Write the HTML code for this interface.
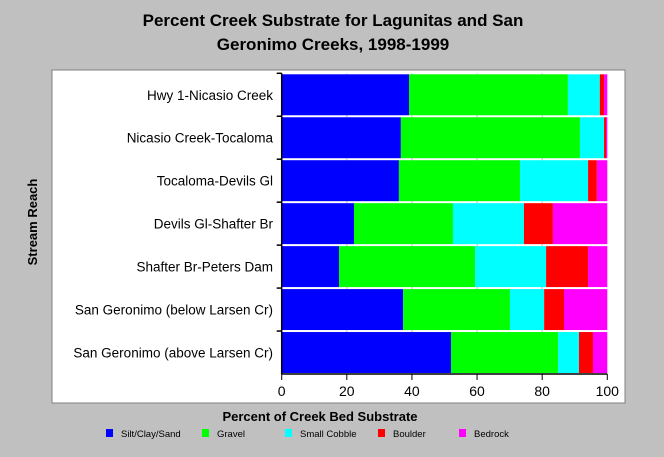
<!DOCTYPE html>
<html><head><meta charset="utf-8"><style>
body{margin:0;background:#c0c0c0;}
svg{display:block;font-family:"Liberation Sans",Arial,sans-serif;}
</style></head><body>
<svg id="chart" width="664" height="457" viewBox="0 0 664 457">
<rect x="0" y="0" width="664" height="457" fill="#c0c0c0"/>
<rect x="52" y="70" width="573" height="333" fill="#fff" stroke="#808080" stroke-width="1"/>
<text x="333" y="26" text-anchor="middle" font-size="17" font-weight="bold">Percent Creek Substrate for Lagunitas and San</text>
<text x="333" y="50" text-anchor="middle" font-size="17" font-weight="bold">Geronimo Creeks, 1998-1999</text>
<text transform="translate(37,222) rotate(-90)" text-anchor="middle" font-size="13" font-weight="bold">Stream Reach</text>
<text x="320" y="421" text-anchor="middle" font-size="13" font-weight="bold">Percent of Creek Bed Substrate</text>
<g id="grid"></g><g id="bars"></g><g id="axes"></g><g id="legend"></g>
</svg>
<script>
const categories=["Hwy 1-Nicasio Creek","Nicasio Creek-Tocaloma","Tocaloma-Devils Gl","Devils Gl-Shafter Br","Shafter Br-Peters Dam","San Geronimo (below Larsen Cr)","San Geronimo (above Larsen Cr)"];
const seriesNames=["Silt/Clay/Sand","Gravel","Small Cobble","Boulder","Bedrock"];
const silt=[39.1,36.6,36.0,22.2,17.6,37.3,52.0];
const gravel=[48.8,55.0,37.2,30.4,41.8,32.8,32.9];
const cobble=[9.8,7.4,20.9,21.8,21.8,10.5,6.4];
const boulder=[1.3,0.6,2.7,8.9,12.9,6.1,4.3];
const bedrock=[1.0,0.4,3.2,16.7,5.9,13.3,4.4];
const xTicks=[0,20,40,60,80,100];
const colors=["#0000ff","#00ff00","#00ffff","#ff0000","#ff00ff"];
const NS="http://www.w3.org/2000/svg";
const X0=281.7,X1=607.3,Y0=73.3,Y1=374;
const xs=v=>X0+(v-xs.min)/(xs.max-xs.min)*(X1-X0);xs.min=0;xs.max=100;
const band=(Y1-Y0)/categories.length;
const ys=i=>Y0+i*band;
function mk(t,a,p){const e=document.createElementNS(NS,t);for(const k in a)e.setAttribute(k,a[k]);p.appendChild(e);return e;}
const grid=document.getElementById('grid'),bars=document.getElementById('bars'),axes=document.getElementById('axes'),legend=document.getElementById('legend');
xTicks.forEach(t=>{
 if(t>0&&t<100){const g=mk('line',{x1:xs(t),x2:xs(t),y1:Y0,y2:Y1,stroke:'#c0c0c0','stroke-width':1},grid);
 
 }
 const tk=mk('line',{x1:xs(t),x2:xs(t),y1:Y1,y2:Y1+6,stroke:'#000','stroke-width':1},axes);
 
 
 const lb=mk('text',{x:xs(t),y:Y1+22,'text-anchor':'middle','font-size':14},axes);lb.textContent=t;
 
 
});
const series=[silt,gravel,cobble,boulder,bedrock];
categories.forEach((c,i)=>{
 let cum=0;
 series.forEach((s,j)=>{
  const r=mk('rect',{x:xs(cum),y:ys(i)+1,width:xs(cum+s[i])-xs(cum),height:band-2,fill:colors[j]},bars);
  
  
  cum+=s[i];
 });
 const lb=mk('text',{x:273,y:ys(i)+band/2+5,'text-anchor':'end','font-size':13.5},axes);lb.textContent=c;
 
 
 const tk=mk('line',{x1:X0-5,x2:X0,y1:ys(i),y2:ys(i),stroke:'#000','stroke-width':1.5},axes);
 
 
});
const ax=mk('line',{x1:X0,x2:X0,y1:Y0,y2:Y1,stroke:'#000','stroke-width':1.5},axes);


const bx=mk('line',{x1:X0,x2:X1,y1:Y1,y2:Y1,stroke:'#000','stroke-width':1.5},axes);


const lx=[106,202,285,378,459];
seriesNames.forEach((n,j)=>{
 const sw=mk('rect',{x:lx[j],y:429,width:7,height:8,fill:colors[j]},legend);
 
 
 const t=mk('text',{x:lx[j]+15,y:437,'font-size':9.5},legend);t.textContent=n;
 
 
});
</script>
</body></html>
